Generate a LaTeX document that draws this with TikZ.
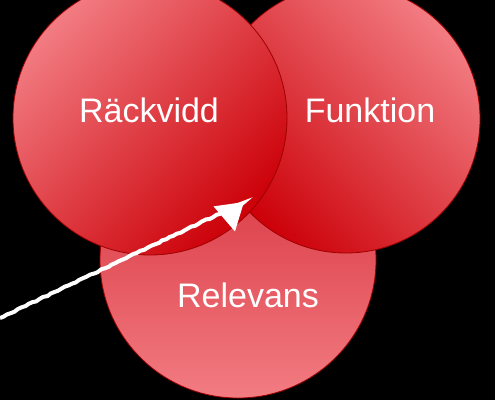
\documentclass[tikz,border=0pt]{standalone}
\usepackage{fontspec}
\setmainfont{Liberation Sans}
\usetikzlibrary{arrows.meta,decorations.pathmorphing}
\definecolor{lightred}{HTML}{F27C82}
\definecolor{darkred}{HTML}{CC0008}
\definecolor{midred}{HTML}{D52A36}
\definecolor{rimred}{HTML}{9E0000}
\tikzset{
  ball/.style={circle, draw=rimred, line width=0.8pt, inner sep=0pt},
  lbl/.style={text=white, font=\fontsize{34}{34}\selectfont, inner sep=0pt},
  chalk/.style={white, line width=4pt, -{Triangle[width=32pt,length=26pt]},
    decorate, decoration={random steps, segment length=4pt, amplitude=0.6pt}}
}
\begin{document}
\begin{tikzpicture}[x=1pt,y=-1pt]
\fill[black] (0,0) rectangle (495,400);
\useasboundingbox (0,0) rectangle (495,400);
\node[ball, minimum size=276pt, top color=midred, bottom color=lightred] (rel) at (238,260) {};
\node[ball, minimum size=268pt, top color=lightred, bottom color=darkred, shading angle=-45] (fun) at (346,119) {};
\node[ball, minimum size=274pt, top color=lightred, bottom color=darkred, shading angle=45] (rack) at (150,118) {};
\node[lbl] (track) at (149,110) {Räckvidd};
\node[lbl] (tfun) at (370,110) {Funktion};
\node[lbl] (trel) at (248,295) {Relevans};
\coordinate (tail) at (0,318);
\coordinate (tip) at (244,202);
\draw[chalk] (tail) -- (tip);
\end{tikzpicture}
\end{document}
